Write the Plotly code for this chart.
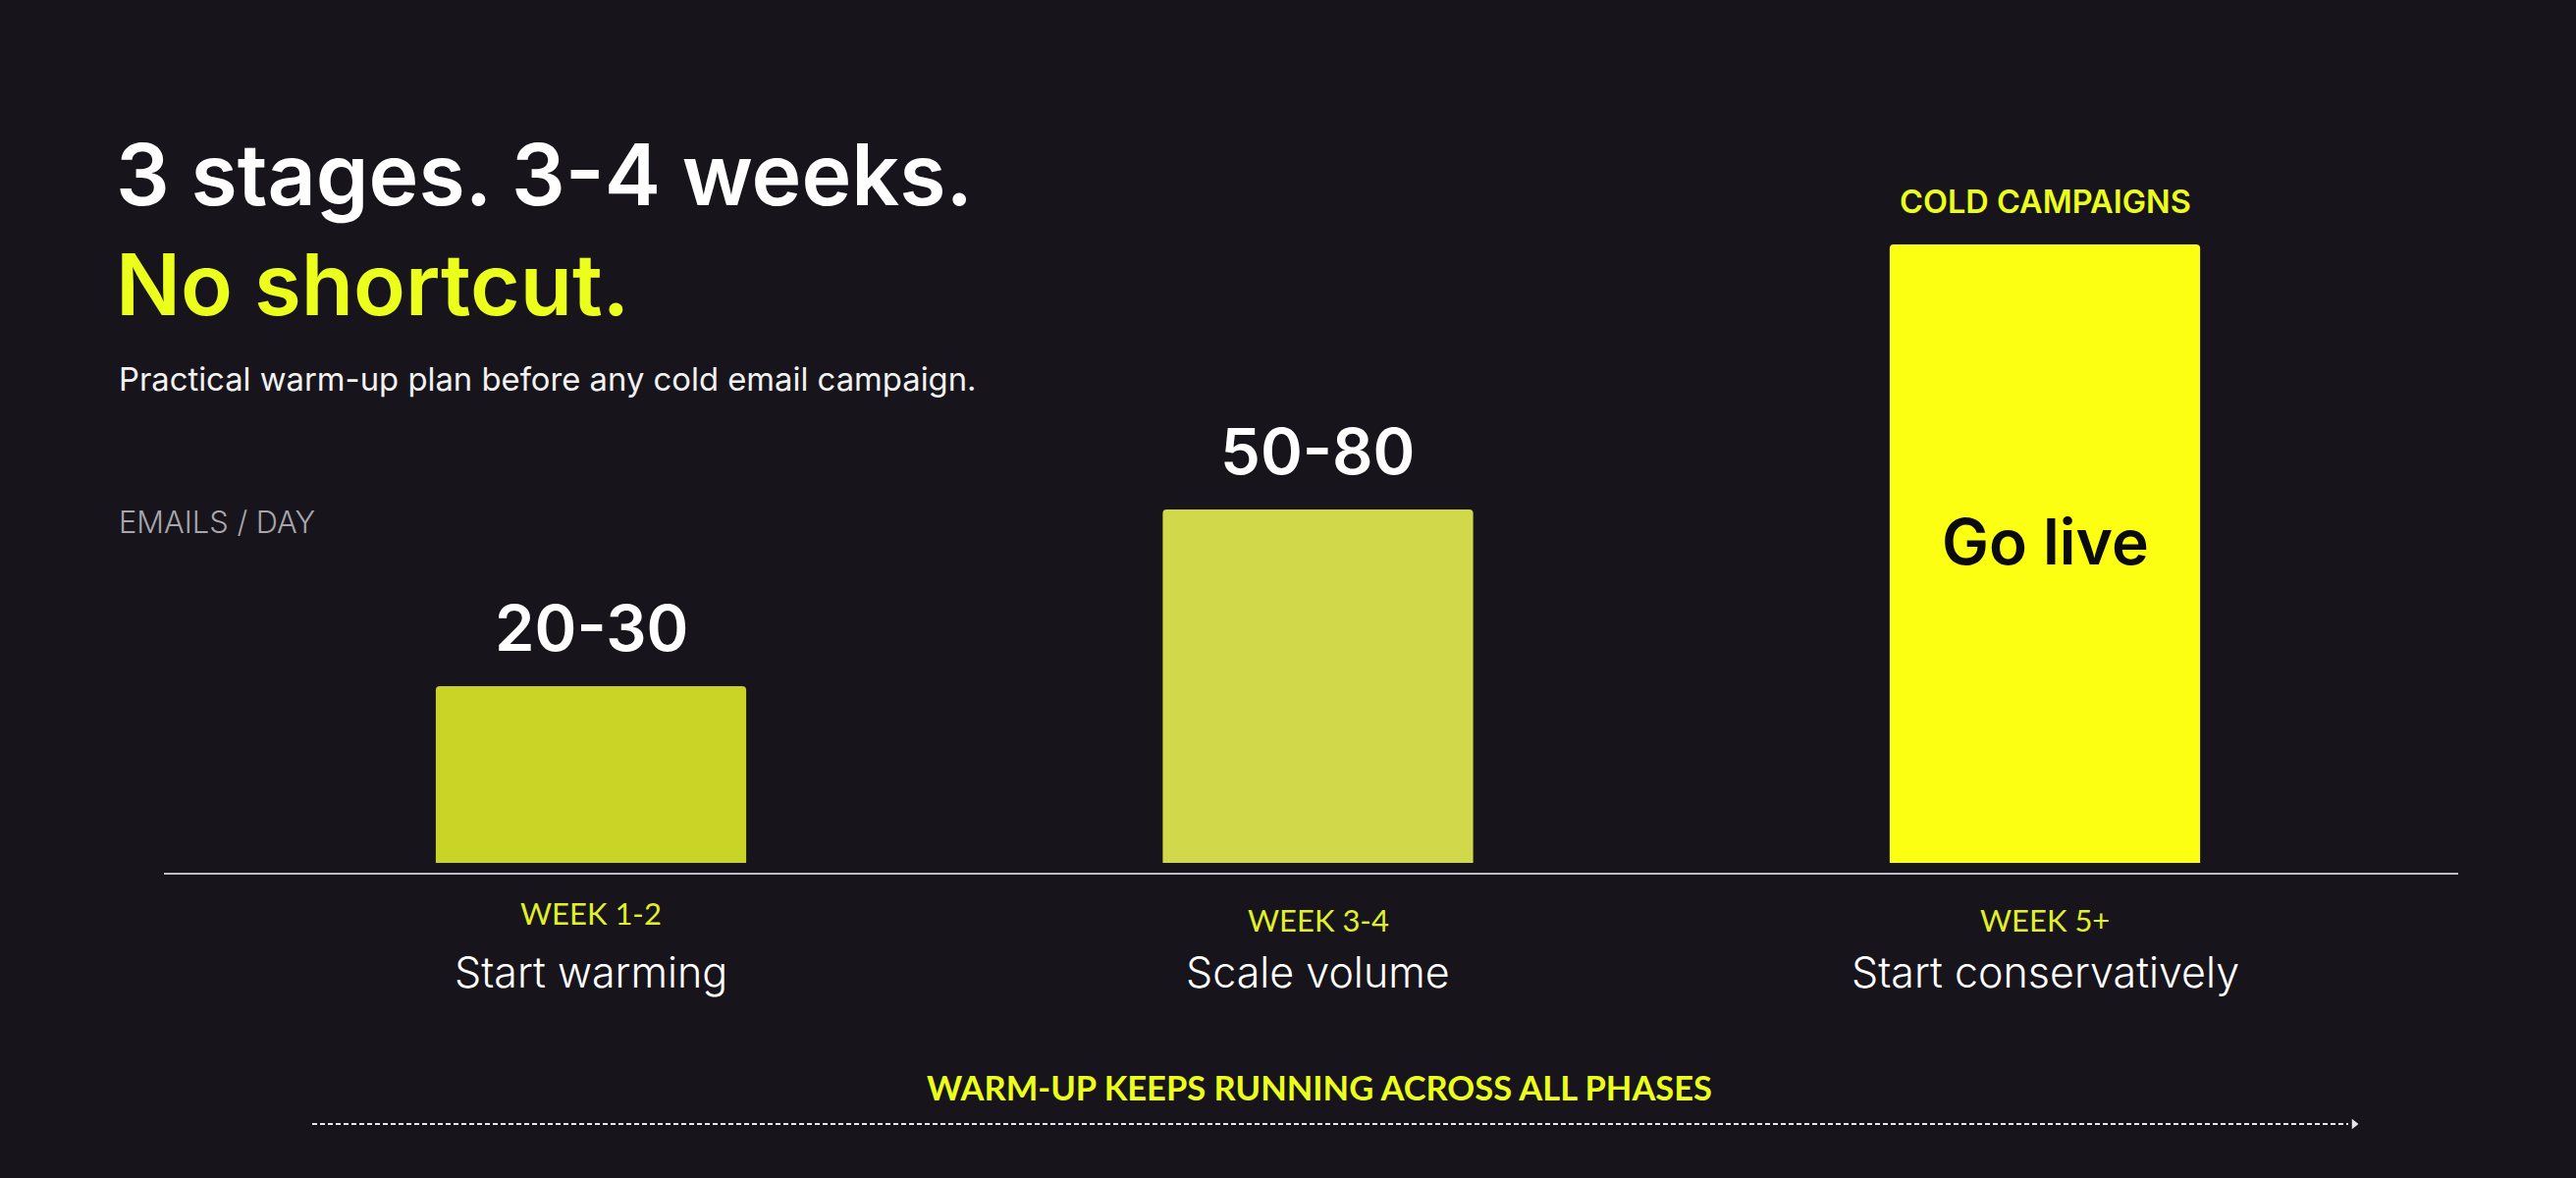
import plotly.graph_objects as go

# ---- data ----
stages = ["Start warming", "Scale volume", "Start conservatively"]
weeks = ["WEEK 1-2", "WEEK 3-4", "WEEK 5+"]
volume_labels = ["20-30", "50-80", ""]
bar_heights = [30, 60, 105]          # visual bar height (relative scale)
bar_colors = ["#c9d426", "#d1d849", "#fdff12"]
inside_label = "Go live"
top_label = "COLD CAMPAIGNS"

W, H = 2624, 1200
BG = "#17151b"
YEL = "#ecff1c"
FONT = "Inter"
FONT2 = "Lato"

def px(x):
    return x / W

def py(y):
    return 1 - y / H

x_idx = list(range(len(stages)))

fig = go.Figure()
fig.add_trace(go.Bar(
    x=x_idx, y=bar_heights, width=0.427,
    marker=dict(color=bar_colors, line=dict(width=0)),
    hoverinfo="skip", showlegend=False,
))

fig.add_trace(go.Scatter(
    x=[px(2398)], y=[py(1145)], xaxis="x2", yaxis="y2",
    mode="markers", marker=dict(symbol="triangle-right", size=9, color="#e8e8ea"),
    hoverinfo="skip", showlegend=False,
))

ann = []
ann.append(dict(text="3 stages. 3-4 weeks.", x=px(116), y=py(178), xanchor="left", yanchor="middle",
                font=dict(family=FONT, size=86, color="#ffffff", weight=600)))
ann.append(dict(text="No shortcut.", x=px(116), y=py(289), xanchor="left", yanchor="middle",
                font=dict(family=FONT, size=87, color=YEL, weight=600)))
ann.append(dict(text="Practical warm-up plan before any cold email campaign.", x=px(119), y=py(386),
                xanchor="left", yanchor="middle",
                font=dict(family=FONT, size=32.8, color="#f2f2f2", weight=400)))
ann.append(dict(text="EMAILS / DAY", x=px(119), y=py(531), xanchor="left", yanchor="middle",
                font=dict(family=FONT, size=30.8, color="#a8a6ad", weight=300)))

for a in ann:
    a.update(xref="paper", yref="paper", showarrow=False)

data_ann = []
for i, (lab, h) in enumerate(zip(volume_labels, bar_heights)):
    if lab:
        data_ann.append(dict(text=lab, x=i, y=h, xref="x", yref="y", yanchor="bottom", yshift=18,
                             showarrow=False,
                             font=dict(family=FONT, size=65, color="#ffffff", weight=600)))
data_ann.append(dict(text=top_label, x=2, y=bar_heights[2], xref="x", yref="y", yanchor="bottom",
                     yshift=22, showarrow=False,
                     font=dict(family=FONT, size=32.5, color=YEL, weight=600)))
data_ann.append(dict(text=inside_label, x=2, y=bar_heights[2] * 0.52, xref="x", yref="y",
                     yanchor="middle", showarrow=False,
                     font=dict(family=FONT, size=64, color="#0b0a0d", weight=600)))
week_y = [930, 937, 937]
for i, (wk, st) in enumerate(zip(weeks, stages)):
    data_ann.append(dict(text=wk, x=i, y=py(week_y[i]), xref="x", yref="paper", yanchor="middle",
                         showarrow=False,
                         font=dict(family=FONT2, size=31, color="#e2f02a", weight=400)))
    data_ann.append(dict(text=st, x=i, y=py(990), xref="x", yref="paper", yanchor="middle",
                         showarrow=False,
                         font=dict(family=FONT, size=43, color="#ffffff", weight=300)))

data_ann.append(dict(text="WARM-UP KEEPS RUNNING ACROSS ALL PHASES", x=px(1344), y=py(1107),
                     xref="paper", yref="paper", yanchor="middle", showarrow=False,
                     font=dict(family=FONT2, size=34.5, color=YEL, weight=700)))

shapes = [
    dict(type="line", xref="paper", yref="paper", x0=px(167), x1=px(2504), y0=py(890), y1=py(890),
         line=dict(color="#bdbcc0", width=2)),
    dict(type="line", xref="paper", yref="paper", x0=px(318), x1=px(2392), y0=py(1145), y1=py(1145),
         line=dict(color="#e8e8ea", width=2, dash="5px,3px")),
]

x0_px, step = 602, 740.5
y0_px, yunit = 879, 6.0

fig.update_layout(
    width=W, height=H,
    margin=dict(l=0, r=0, t=0, b=0, pad=0),
    paper_bgcolor=BG, plot_bgcolor=BG,
    barcornerradius=4,
    xaxis=dict(range=[-x0_px / step, (W - x0_px) / step], visible=False, fixedrange=True),
    yaxis=dict(range=[-(H - y0_px) / yunit, y0_px / yunit], visible=False, fixedrange=True),
    xaxis2=dict(range=[0, 1], visible=False, overlaying="x", fixedrange=True),
    yaxis2=dict(range=[0, 1], visible=False, overlaying="y", fixedrange=True),
    annotations=ann + data_ann,
    shapes=shapes,
    showlegend=False,
)

fig.write_html("out.html", config={"displayModeBar": False})
